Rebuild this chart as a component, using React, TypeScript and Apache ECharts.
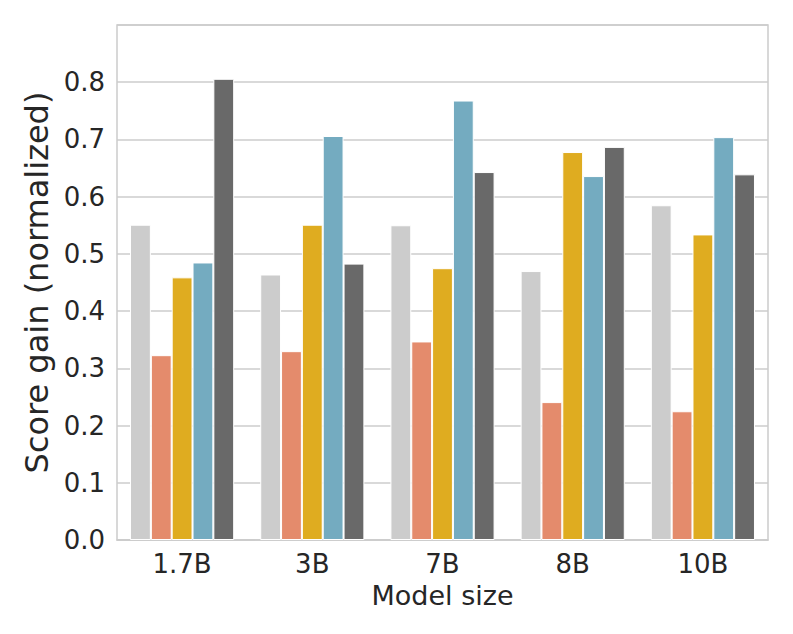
import React, { useEffect, useRef } from "react";
import * as echarts from "echarts";

const categories = ["1.7B", "3B", "7B", "8B", "10B"];
const seriesA = [0.551, 0.464, 0.55, 0.47, 0.585];
const seriesB = [0.323, 0.33, 0.347, 0.241, 0.225];
const seriesC = [0.459, 0.551, 0.475, 0.678, 0.534];
const seriesD = [0.485, 0.706, 0.768, 0.636, 0.704];
const seriesE = [0.806, 0.483, 0.643, 0.687, 0.639];
const seriesValues = [seriesA, seriesB, seriesC, seriesD, seriesE];
const seriesColors = ["#cccccc", "#e48b6c", "#dfac20", "#74abc0", "#696969"];

export default function App() {
  const ref = useRef<HTMLDivElement>(null);
  useEffect(() => {
    if (!ref.current) return;
    const chart = echarts.init(ref.current, undefined, { renderer: "svg" });
    const font = "DejaVu Sans";
    chart.setOption({
      animation: false,
      backgroundColor: "#ffffff",
      grid: {
        left: 117,
        right: 25,
        top: 25,
        bottom: 94,
        show: true,
        borderColor: "#cccccc",
        borderWidth: 1.5,
        containLabel: false,
      },
      xAxis: {
        type: "category",
        data: categories,
        axisLine: { show: true, lineStyle: { color: "#cccccc", width: 1.5 } },
        axisTick: { show: false },
        axisLabel: { color: "#262626", fontSize: 26, fontFamily: font, margin: 11 },
        name: "Model size",
        nameLocation: "middle",
        nameGap: 40,
        nameTextStyle: { color: "#262626", fontSize: 27, fontFamily: font },
      },
      yAxis: {
        type: "value",
        min: 0,
        max: 0.9,
        interval: 0.1,
        axisLine: { show: false },
        axisTick: { show: false },
        splitLine: { show: true, lineStyle: { color: "#cccccc", width: 1.5 } },
        axisLabel: {
          color: "#262626",
          fontSize: 26,
          fontFamily: font,
          margin: 12,
          formatter: (v: number) => (v > 0.85 ? "" : v.toFixed(1)),
        },
        name: "Score gain (normalized)",
        nameLocation: "middle",
        nameGap: 60,
        nameTextStyle: { color: "#262626", fontSize: 32, fontFamily: font },
      },
      series: seriesValues.map((vals, i) => ({
        type: "bar",
        data: vals,
        barCategoryGap: "20%",
        barGap: "0%",
        itemStyle: { color: seriesColors[i], borderColor: "#ffffff", borderWidth: 1 },
      })),
    });
    return () => chart.dispose();
  }, []);
  return (
    <div
      ref={ref}
      style={{ position: "absolute", left: 0, top: 0, width: 793, height: 634 }}
    />
  );
}
